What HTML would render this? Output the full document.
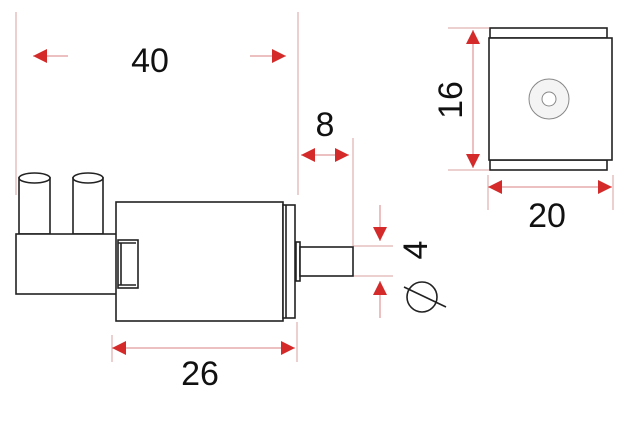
<!DOCTYPE html>
<html><head><style>body{margin:0;background:#fff}svg{display:block}</style></head>
<body>
<svg width="627" height="427" viewBox="0 0 627 427" xmlns="http://www.w3.org/2000/svg" font-family="Liberation Sans, sans-serif">
<defs>
<marker id="a" viewBox="0 0 10 10" refX="10" refY="5" markerWidth="14" markerHeight="14" markerUnits="userSpaceOnUse" orient="auto"><path d="M0,0L10,5L0,10z" fill="#d42a2a"/></marker>
</defs>
<g stroke="#d9a0a0" stroke-width="1" fill="none">
<line x1="16" y1="12" x2="16" y2="195"/>
<line x1="298" y1="12" x2="298" y2="195"/>
<line x1="353" y1="138" x2="353" y2="246"/>
<line x1="353" y1="246" x2="393" y2="246"/>
<line x1="353" y1="276" x2="393" y2="276"/>
<line x1="112" y1="335" x2="112" y2="362"/>
<line x1="297" y1="322" x2="297" y2="362"/>
<line x1="448" y1="28" x2="489" y2="28"/>
<line x1="448" y1="170" x2="489" y2="170"/>
<line x1="488" y1="175" x2="488" y2="210"/>
<line x1="613" y1="175" x2="613" y2="210"/>
</g>
<g stroke="#d98080" stroke-width="1" fill="none">
<line x1="68" y1="56" x2="33" y2="56" marker-end="url(#a)"/>
<line x1="250" y1="56" x2="286" y2="56" marker-end="url(#a)"/>
<line x1="325" y1="155" x2="301" y2="155" marker-end="url(#a)"/>
<line x1="325" y1="155" x2="349" y2="155" marker-end="url(#a)"/>
<line x1="380" y1="205" x2="380" y2="241" marker-end="url(#a)"/>
<line x1="380" y1="318" x2="380" y2="281" marker-end="url(#a)"/>
<line x1="200" y1="348" x2="112" y2="348" marker-end="url(#a)"/>
<line x1="200" y1="348" x2="295" y2="348" marker-end="url(#a)"/>
<line x1="473" y1="100" x2="473" y2="30" marker-end="url(#a)"/>
<line x1="473" y1="100" x2="473" y2="168" marker-end="url(#a)"/>
<line x1="550" y1="187" x2="488" y2="187" marker-end="url(#a)"/>
<line x1="550" y1="187" x2="612" y2="187" marker-end="url(#a)"/>
</g>
<g stroke="#222" stroke-width="1.6" fill="#fff">
<rect x="19" y="178" width="31" height="56"/>
<ellipse cx="34.5" cy="178" rx="15.5" ry="5"/>
<rect x="73" y="178" width="30" height="56"/>
<ellipse cx="88" cy="178" rx="15" ry="5"/>
<rect x="16" y="234" width="101" height="60"/>
<rect x="116" y="202" width="167" height="119"/>
<rect x="283" y="205" width="12" height="113"/>
<line x1="286" y1="205" x2="286" y2="318"/>
<rect x="118" y="240" width="20" height="48"/>
<line x1="121" y1="243" x2="121" y2="285"/>
<line x1="118" y1="243" x2="136" y2="243"/>
<line x1="118" y1="285" x2="136" y2="285"/>
<rect x="296" y="242" width="4" height="39"/>
<rect x="300" y="247" width="53" height="29"/>
<rect x="490" y="28" width="117" height="10"/>
<rect x="490" y="160" width="117" height="10"/>
<rect x="489" y="38" width="123" height="122"/>
</g>
<circle cx="549" cy="99" r="20" fill="#f4f4f4" stroke="#888" stroke-width="1"/>
<circle cx="549" cy="99" r="7" fill="#fff" stroke="#888" stroke-width="1"/>
<circle cx="422" cy="297" r="15" fill="none" stroke="#222" stroke-width="1.6"/>
<line x1="404" y1="287" x2="446" y2="307" stroke="#222" stroke-width="1.6"/>
<g fill="#111" font-size="34">
<text x="150" y="72" text-anchor="middle">40</text>
<text x="325" y="136" text-anchor="middle">8</text>
<text x="200" y="385" text-anchor="middle">26</text>
<text x="547" y="227" text-anchor="middle">20</text>
<text transform="translate(462,100) rotate(-90)" text-anchor="middle">16</text>
<text transform="translate(427,250) rotate(-90)" text-anchor="middle">4</text>
</g>
</svg>
</body></html>
